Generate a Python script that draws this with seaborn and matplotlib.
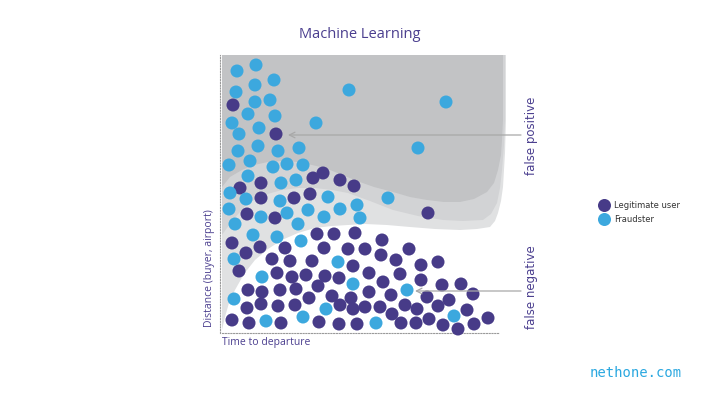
import pandas as pd
import seaborn as sns
import matplotlib.pyplot as plt

# points: x = time to departure, y = distance (arbitrary units)
fraud_x = [15, 34, 52, 33, 14, 33, 48, 26, 53, 10, 37, 17, 94, 127, 224, 196,
           16, 36, 56, 77, 7, 28, 51, 65, 81, 26, 59, 74, 8, 24, 58, 106, 135,
           166, 7, 39, 65, 86, 102, 118, 138, 13, 76, 31, 55, 79, 12, 116, 40,
           131, 185, 12, 104, 44, 81, 154, 232]
fraud_y = [262, 268, 253, 248, 241, 231, 233, 219, 217, 210, 205, 199, 210, 243,
           231, 185, 182, 187, 182, 185, 168, 172, 166, 169, 168, 157, 150, 153,
           140, 134, 132, 136, 128, 135, 124, 116, 120, 123, 116, 124, 115, 109,
           109, 98, 96, 92, 74, 71, 56, 49, 43, 34, 24, 12, 16, 10, 17]

legit_x = [11, 54, 18, 39, 91, 101, 118, 132, 39, 72, 88, 206, 25, 53, 10, 95,
           112, 133, 160, 24, 38, 63, 102, 126, 143, 159, 187, 50, 68, 90, 131,
           174, 199, 216, 17, 55, 70, 84, 103, 117, 147, 178, 199, 26, 40, 58,
           74, 96, 161, 220, 239, 87, 110, 129, 147, 169, 205, 227, 251, 25, 39,
           56, 73, 118, 131, 143, 158, 183, 195, 216, 245, 10, 27, 59, 97, 117,
           135, 170, 179, 194, 207, 221, 236, 252, 266]
legit_y = [228, 199, 145, 150, 155, 160, 153, 147, 135, 135, 139, 120, 119, 115,
           90, 99, 99, 100, 93, 80, 86, 85, 85, 84, 84, 78, 84, 74, 72, 72, 67,
           73, 68, 71, 62, 60, 56, 58, 57, 55, 60, 59, 53, 43, 41, 43, 44, 47,
           51, 48, 49, 35, 37, 35, 41, 38, 36, 33, 39, 25, 29, 27, 28, 28, 24,
           26, 26, 28, 24, 27, 23, 13, 10, 10, 11, 9, 9, 19, 10, 10, 14, 8, 4,
           9, 15]

# decision regions (lower edge of each grey band)
band_dark_x = [0, 8, 20, 32, 46, 60, 76, 90, 103, 118, 135, 152, 171, 188, 205,
               222, 238, 252, 265, 272, 276, 279, 280, 281, 281]
band_dark_y = [146, 156, 163, 168, 171, 172, 171, 168, 165, 159, 152, 146, 141,
               136, 133, 131, 131, 134, 141, 150, 163, 178, 193, 213, 278]
band_mid_x = [0, 10, 26, 42, 60, 76, 93, 110, 126, 148, 171, 196, 221, 241, 261,
              269, 275, 278, 280, 282, 283, 283]
band_mid_y = [98, 112, 130, 138, 143, 145, 145, 143, 140, 132, 123, 117, 113,
              112, 113, 119, 130, 145, 163, 188, 213, 278]
band_light_x = [0, 3, 7, 13, 22, 33, 46, 60, 76, 93, 110, 126, 143, 165, 188,
                213, 238, 255, 268, 273, 276, 279, 281, 283, 284, 284]
band_light_y = [3, 16, 30, 43, 59, 73, 84, 93, 100, 105, 107, 108, 109, 108, 106,
                104, 103, 104, 106, 112, 120, 132, 146, 180, 213, 278]

top = 278
purple = "#473b88"
blue = "#3ca8de"

df = pd.concat([
    pd.DataFrame({"time": legit_x, "distance": legit_y, "kind": "Legitimate user"}),
    pd.DataFrame({"time": fraud_x, "distance": fraud_y, "kind": "Fraudster"}),
])

sns.set_style("white")
fig = plt.figure(figsize=(7.2, 4.05), dpi=100)
ax = fig.add_axes([222 / 720, 72 / 405, 287 / 720, 278 / 405])

ax.fill(band_light_x + [0], band_light_y + [top], color="#e0e1e2", lw=0, zorder=1)
ax.fill(band_mid_x + [0], band_mid_y + [top], color="#d2d3d5", lw=0, zorder=1)
ax.fill(band_dark_x + [0], band_dark_y + [top], color="#c2c3c5", lw=0, zorder=1)

sns.scatterplot(data=df, x="time", y="distance", hue="kind",
                palette={"Legitimate user": purple, "Fraudster": blue},
                s=88, edgecolor="none", ax=ax, zorder=3, clip_on=False)

ax.set_xlim(0, 287)
ax.set_ylim(0, top)
ax.set_xticks([])
ax.set_yticks([])
ax.set_xlabel("")
ax.set_ylabel("")
for side in ["top", "right"]:
    ax.spines[side].set_visible(False)
for side in ["left", "bottom"]:
    ax.spines[side].set_linestyle((0, (1, 1.5)))
    ax.spines[side].set_color("#9a9a9a")
    ax.spines[side].set_linewidth(0.8)
ax.spines["left"].set_position(("outward", 1.5))
ax.spines["bottom"].set_bounds(0, 277)

arrow = dict(arrowstyle="->", color="#a8a8a8", lw=0.9, shrinkA=0, shrinkB=0)
ax.annotate("", xy=(66, 198), xytext=(299, 198), arrowprops=arrow,
            annotation_clip=False)
ax.annotate("", xy=(193, 42), xytext=(299, 42), arrowprops=arrow,
            annotation_clip=False)

handles, labels = ax.get_legend_handles_labels()
leg = ax.legend(handles, labels, loc="center left", frameon=False,
                bbox_to_anchor=(588 / 720, 1 - 212 / 405),
                bbox_transform=fig.transFigure, fontsize=6, handletextpad=0.2,
                labelspacing=0.6, markerscale=1.0)
for t in leg.get_texts():
    t.set_color("#333333")

text_col = "#4b3f8f"
fig.text(0.5, 1 - 34 / 405, "Machine Learning", ha="center", va="center",
         fontsize=10.5, color=text_col, family="Open Sans")
fig.text(209 / 720, 1 - 268 / 405, "Distance (buyer, airport)", rotation=90,
         ha="center", va="center", fontsize=7.5, color=text_col, family="Open Sans")
fig.text(222 / 720, 1 - 343 / 405, "Time to departure", ha="left", va="center",
         fontsize=7.5, color=text_col, family="Open Sans")
fig.text(532 / 720, 1 - 136 / 405, "false positive", rotation=90, ha="center",
         va="center", fontsize=8.5, color=text_col)
fig.text(532 / 720, 1 - 287 / 405, "false negative", rotation=90, ha="center",
         va="center", fontsize=8.5, color=text_col)
fig.text(636 / 720, 1 - 373 / 405, "nethone.com", ha="center", va="center",
         fontsize=10, color="#2ba8e0", family="DejaVu Sans Mono")

fig.savefig("out.png", dpi=100)
